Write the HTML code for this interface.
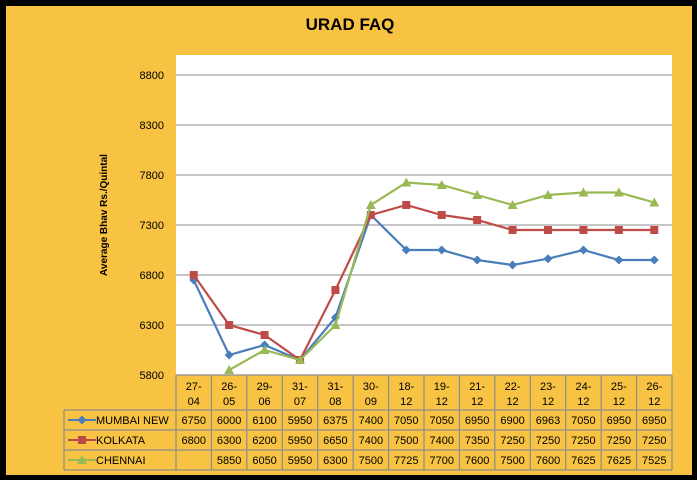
<!DOCTYPE html>
<html><head><meta charset="utf-8"><style>
body{margin:0;background:#fff;}
#wrap{position:absolute;left:0;top:0;width:700px;height:483px;}
</style></head><body>
<div id="wrap">
<svg id="svg" width="700" height="483" xmlns="http://www.w3.org/2000/svg" font-family="Liberation Sans, sans-serif">
<rect x="0" y="0" width="697" height="480" fill="#000"/>
<rect x="6" y="6" width="686" height="469" fill="#F8C242"/>
<text x="350" y="30" text-anchor="middle" font-size="17" font-weight="bold">URAD FAQ</text>
<rect x="176" y="55" width="496" height="320" fill="#fff"/>
<text transform="translate(107,215) rotate(-90)" text-anchor="middle" font-size="10" font-weight="bold">Average Bhav Rs./Quintal</text>
<g id="grid"></g><g id="table"></g><g id="series"></g>
</svg>
</div>
<script>
const categories=["27-04","26-05","29-06","31-07","31-08","30-09","18-12","19-12","21-12","22-12","23-12","24-12","25-12","26-12"];
const mumbai=[6750,6000,6100,5950,6375,7400,7050,7050,6950,6900,6963,7050,6950,6950];
const kolkata=[6800,6300,6200,5950,6650,7400,7500,7400,7350,7250,7250,7250,7250,7250];
const chennai=[null,5850,6050,5950,6300,7500,7725,7700,7600,7500,7600,7625,7625,7525];
const yTicks=[5800,6300,6800,7300,7800,8300,8800];
const seriesNames=["MUMBAI NEW","KOLKATA","CHENNAI"];
const NS="http://www.w3.org/2000/svg";
const X0=176,X1=672,Y0=375,Y1=75,vMin=5800,vMax=8800;
const bw=(X1-X0)/categories.length;
const xs=i=>X0+bw*(i+0.5);
const ys=v=>Y0-(v-vMin)/(vMax-vMin)*(Y0-Y1);
function mk(tag,a,p){const e=document.createElementNS(NS,tag);for(const k in a)e.setAttribute(k,a[k]);p.appendChild(e);return e;}
const grid=document.getElementById('grid');
yTicks.forEach(t=>{
 if(t>vMin){const l=mk('line',{x1:X0,x2:X1,y1:ys(t),y2:ys(t),stroke:'#8c8c8c','stroke-width':1},grid);
 
 }
 const tx=mk('text',{x:164,y:ys(t)+4,'text-anchor':'end','font-size':11},grid);
 tx.textContent=t;
 
 
});
const tb=document.getElementById('table');
const rows=[375,410,430,450,470];
const gs={stroke:'#8c8c8c','stroke-width':1.2,fill:'none'};
rows.forEach((r,i)=>{mk('line',Object.assign({x1:i==0?X0:64,x2:X1,y1:r,y2:r},gs),tb);});
mk('line',Object.assign({x1:64,x2:64,y1:410,y2:470},gs),tb);
for(let i=0;i<=categories.length;i++){mk('line',Object.assign({x1:X0+bw*i,x2:X0+bw*i,y1:375,y2:470},gs),tb);}
categories.forEach((c,i)=>{
 const [a,b]=c.split('-');
 const t1=mk('text',{x:xs(i),y:390,'text-anchor':'middle','font-size':11},tb);t1.textContent=a+'-';
 
 
 const t2=mk('text',{x:xs(i),y:405,'text-anchor':'middle','font-size':11},tb);t2.textContent=b;
 
 
});
const allData=[mumbai,kolkata,chennai];
const colors=['#4A7EBB','#BE4B48','#98B954'];
function marker(p,type,x,y,c){
 let e;
 if(type==0)e=mk('polygon',{points:`${x},${y-4.5} ${x+4.5},${y} ${x},${y+4.5} ${x-4.5},${y}`,fill:c},p);
 else if(type==1)e=mk('rect',{x:x-4,y:y-4,width:8,height:8,fill:c},p);
 else e=mk('polygon',{points:`${x},${y-5} ${x+5},${y+4} ${x-5},${y+4}`,fill:c},p);
 return e;
}
allData.forEach((d,s)=>{
 const ry=rows[s+1]+10;
 const ll=mk('line',{x1:68,x2:96,y1:ry,y2:ry,stroke:colors[s],'stroke-width':2},tb);
 
 
 const lm=marker(tb,s,82,ry,colors[s]);
 
 
 const ln=mk('text',{x:96,y:ry+4,'font-size':11},tb);ln.textContent=seriesNames[s];
 
 
 d.forEach((v,i)=>{if(v==null)return;
  const t=mk('text',{x:xs(i),y:ry+4,'text-anchor':'middle','font-size':11},tb);t.textContent=v;
  
  });
});
const sg=document.getElementById('series');
allData.forEach((d,s)=>{
 const pts=[];d.forEach((v,i)=>{if(v!=null)pts.push(xs(i)+','+ys(v));});
 const pl=mk('polyline',{points:pts.join(' '),fill:'none',stroke:colors[s],'stroke-width':2.2},sg);
 
 
 d.forEach((v,i)=>{if(v==null)return;
  const m=marker(sg,s,xs(i),ys(v),colors[s]);
  
  });
});
</script>
</body></html>
